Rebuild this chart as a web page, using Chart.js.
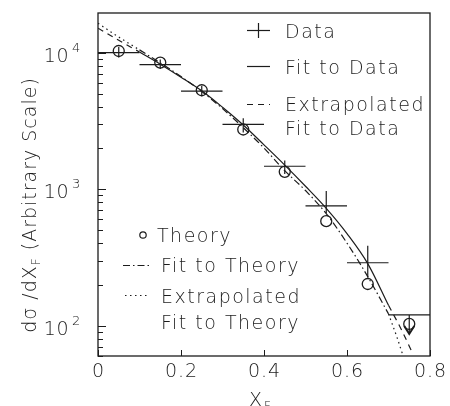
<!DOCTYPE html>
<html>
<head>
<meta charset="utf-8">
<script src="https://cdn.jsdelivr.net/npm/chart.js@4.4.1/dist/chart.umd.min.js"></script>
<style>
  html, body { margin: 0; padding: 0; background: #fff; }
  #wrap { width: 450px; height: 406px; }
</style>
</head>
<body>
<div id="wrap"><canvas id="chart" width="450" height="406"></canvas></div>
<script>
// measured points (x_F bin centres and edges)
const xCenters = [0.05, 0.15, 0.25, 0.35, 0.45, 0.55, 0.65, 0.75];
const binLow = [0.0, 0.1, 0.2, 0.3, 0.4, 0.5, 0.6, 0.7];
const binHigh = [0.1, 0.2, 0.3, 0.4, 0.5, 0.6, 0.7, 0.8];
const dataValues = [10000, 8170, 5230, 2985, 1472, 755, 289, 120];
const dataLow = [9200, 7600, 4800, 2600, 1290, 670, 225, 87];
const dataHigh = [11000, 8900, 5700, 3300, 1620, 970, 385, 120];
const upperLimit = [false, false, false, false, false, false, false, true];
const theoryValues = [10270, 8450, 5300, 2735, 1340, 583, 202, 103];

// fits
const fitX = [0.1, 0.15, 0.2, 0.25, 0.3, 0.35, 0.4, 0.45, 0.5, 0.55, 0.6, 0.65, 0.7];
const fitDataValues = [10100, 8220, 6610, 5250, 3980, 2950, 2110, 1500, 1050, 724, 473, 285, 141];
const fitTheoryValues = [10470, 8410, 6680, 5190, 3890, 2820, 2000, 1365, 977, 661, 403, 229, 122];
const extDataLeftX = [0, 0.05, 0.1];
const extDataLeftValues = [15100, 12300, 10100];
const extDataRightX = [0.7, 0.73, 0.758];
const extDataRightValues = [141, 95, 63];
const extTheoryLeftX = [0, 0.05, 0.1];
const extTheoryLeftValues = [16400, 13000, 10470];
const extTheoryRightX = [0.7, 0.72, 0.733];
const extTheoryRightValues = [122, 83, 63];

// axes
const yMin = 60, yMax = 19500;
const yDecades = [100, 1000, 10000];
const yExponents = ['2', '3', '4'];
const yMinorSteps = [2, 3, 4, 5, 6, 7, 8, 9];
const xTicks = [0, 0.2, 0.4, 0.6, 0.8];
const xTickLabels = ['0', '0.2', '0.4', '0.6', '0.8'];

const INK = '#1c1c1c';
const FONT = "'DejaVu Sans', sans-serif";

function pts(xs, ys) {
    return xs.map((v, i) => ({ x: v, y: ys[i] }));
}

function lineSet(data, dash, smooth) {
    return {
        data: data,
        borderColor: INK,
        borderWidth: 1.2,
        borderDash: dash,
        pointRadius: 0,
        fill: false,
        tension: 0,
        cubicInterpolationMode: smooth ? 'monotone' : 'default',
    };
}

const hBars = xCenters.flatMap((c, i) => [
    { x: binLow[i], y: dataValues[i] },
    { x: binHigh[i], y: dataValues[i] },
    { x: c, y: null },
]);
const vBars = xCenters.flatMap((c, i) => [
    { x: c, y: dataLow[i] },
    { x: c, y: dataHigh[i] },
    { x: c, y: null },
]);

function text(ctx, str, x, y, size, align, spacing) {
    ctx.font = '200 ' + size + 'px ' + FONT;
    ctx.letterSpacing = (spacing || 0) + 'px';
    ctx.textAlign = align || 'left';
    ctx.textBaseline = 'alphabetic';
    ctx.fillText(str, x, y);
}

const decorations = {
    id: 'decorations',
    afterDraw(chart) {
        const { ctx, chartArea: a, scales: { x, y } } = chart;
        ctx.save();
        ctx.strokeStyle = INK;
        ctx.fillStyle = INK;

        // frame
        ctx.lineWidth = 1.3;
        ctx.strokeRect(a.left, a.top, a.right - a.left, a.bottom - a.top);

        // y ticks, inside
        ctx.lineWidth = 1;
        yDecades.forEach((d, k) => {
            [1].concat(yMinorSteps).forEach((m) => {
                const v = d * m;
                if (v < yMin || v > yMax) return;
                const py = Math.round(y.getPixelForValue(v)) + 0.5;
                ctx.beginPath();
                ctx.moveTo(a.left, py);
                ctx.lineTo(a.left + (m === 1 ? 8 : 5), py);
                ctx.stroke();
            });
            const py = y.getPixelForValue(d);
            text(ctx, '10', 69, py + 9, 19, 'right', 0.5);
            text(ctx, yExponents[k], 72, py - 1, 13, 'left', 0);
        });
        // below first decade
        yMinorSteps.forEach((m) => {
            const v = 10 * m;
            if (v < yMin) return;
            const py = Math.round(y.getPixelForValue(v)) + 0.5;
            ctx.beginPath();
            ctx.moveTo(a.left, py);
            ctx.lineTo(a.left + 5, py);
            ctx.stroke();
        });

        // x ticks, inside
        xTicks.forEach((t, i) => {
            const px = Math.round(x.getPixelForValue(t)) + 0.5;
            ctx.beginPath();
            ctx.moveTo(px, a.bottom);
            ctx.lineTo(px, a.bottom - 6);
            ctx.stroke();
            text(ctx, xTickLabels[i], px, 377, 19, 'center', 1);
        });

        // x title
        const cx = (a.left + a.right) / 2;
        text(ctx, 'X', cx - 2, 406, 19, 'right', 0);
        text(ctx, 'F', cx, 410, 12, 'left', 0);

        // y title
        ctx.save();
        ctx.translate(29, 205);
        ctx.rotate(-Math.PI / 2);
        const parts = [
            { t: 'd\u03c3 /dX', s: 19, dy: 0 },
            { t: 'F', s: 12, dy: 4 },
            { t: ' (Arbitrary Scale)', s: 19, dy: 0 },
        ];
        let total = 0;
        parts.forEach((p) => {
            ctx.font = '200 ' + p.s + 'px ' + FONT;
            ctx.letterSpacing = '1px';
            p.w = ctx.measureText(p.t).width;
            total += p.w;
        });
        let tx = -total / 2;
        parts.forEach((p) => {
            text(ctx, p.t, tx, 7 + p.dy, p.s, 'left', 1);
            tx += p.w;
        });
        ctx.restore();

        // upper limit arrow
        xCenters.forEach((c, i) => {
            if (!upperLimit[i]) return;
            const px = x.getPixelForValue(c);
            const py = y.getPixelForValue(dataLow[i]);
            ctx.lineWidth = 2;
            ctx.beginPath();
            ctx.moveTo(px - 5, py - 8);
            ctx.lineTo(px, py);
            ctx.lineTo(px + 5, py - 8);
            ctx.stroke();
        });

        // legend
        ctx.lineWidth = 1.2;
        const seg = (x0, x1, yy, dash) => {
            ctx.setLineDash(dash);
            ctx.beginPath();
            ctx.moveTo(x0, yy);
            ctx.lineTo(x1, yy);
            ctx.stroke();
            ctx.setLineDash([]);
        };
        seg(247, 270, 30.5, []);
        ctx.beginPath();
        ctx.moveTo(258.5, 23);
        ctx.lineTo(258.5, 38);
        ctx.stroke();
        text(ctx, 'Data', 285, 38, 19, 'left', 1.5);
        seg(247, 270, 66.5, []);
        text(ctx, 'Fit to Data', 285, 74, 19, 'left', 1.5);
        seg(247, 270, 104.5, [6, 5]);
        text(ctx, 'Extrapolated', 285, 111, 19, 'left', 1.5);
        text(ctx, 'Fit to Data', 285, 135, 19, 'left', 1.5);

        ctx.beginPath();
        ctx.arc(143, 235, 3.2, 0, Math.PI * 2);
        ctx.stroke();
        text(ctx, 'Theory', 157, 242, 19, 'left', 1.5);
        seg(123, 150, 265.5, [7, 3, 1.5, 3]);
        text(ctx, 'Fit to Theory', 161, 272, 19, 'left', 1.5);
        seg(125, 150, 295.5, [1.5, 3.5]);
        text(ctx, 'Extrapolated', 161, 303, 19, 'left', 1.5);
        text(ctx, 'Fit to Theory', 161, 329, 19, 'left', 1.5);

        ctx.restore();
    },
};

new Chart(document.getElementById('chart'), {
    type: 'line',
    data: {
        datasets: [
            lineSet(pts(fitX, fitDataValues), [], true),
            lineSet(pts(extDataLeftX, extDataLeftValues), [6, 5], true),
            lineSet(pts(extDataRightX, extDataRightValues), [6, 5], true),
            lineSet(pts(fitX, fitTheoryValues), [7, 3, 1.5, 3], true),
            lineSet(pts(extTheoryLeftX, extTheoryLeftValues), [1.5, 3.5], true),
            lineSet(pts(extTheoryRightX, extTheoryRightValues), [1.5, 3.5], true),
            lineSet(hBars, [], false),
            lineSet(vBars, [], false),
            {
                data: pts(xCenters, theoryValues),
                showLine: false,
                pointStyle: 'circle',
                pointRadius: 5.5,
                pointBorderWidth: 1.3,
                pointBorderColor: INK,
                pointBackgroundColor: 'rgba(0,0,0,0)',
            },
        ],
    },
    options: {
        responsive: false,
        animation: false,
        events: [],
        layout: { padding: { top: 13, right: 20, left: 0, bottom: 0 } },
        plugins: {
            legend: { display: false },
            tooltip: { enabled: false },
        },
        scales: {
            x: {
                type: 'linear',
                min: 0,
                max: 0.8,
                ticks: { display: false },
                grid: { display: false },
                border: { display: false },
                afterFit: (s) => { s.height = 50; },
            },
            y: {
                type: 'logarithmic',
                min: yMin,
                max: yMax,
                ticks: { display: false },
                grid: { display: false },
                border: { display: false },
                afterFit: (s) => { s.width = 98; },
            },
        },
    },
    plugins: [decorations],
});
</script>
</body>
</html>
